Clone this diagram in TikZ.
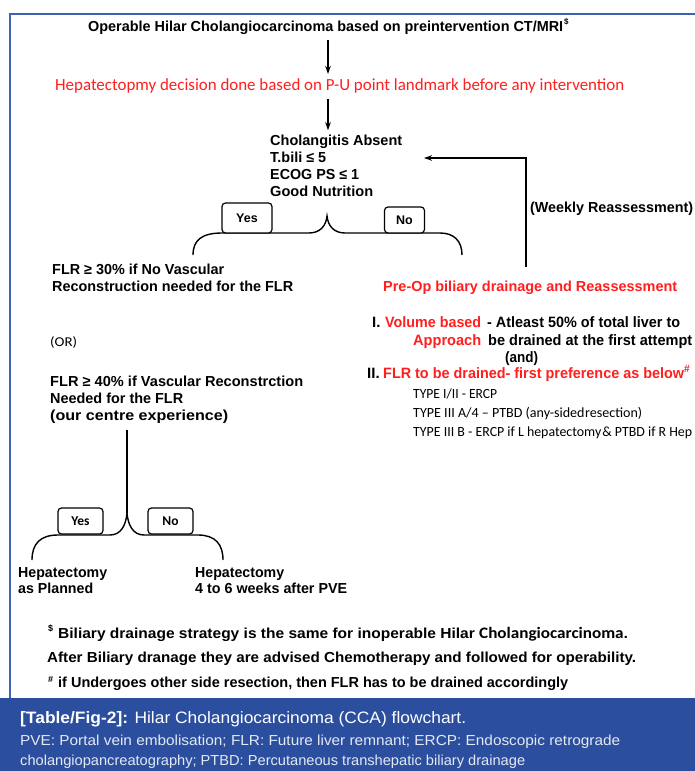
\documentclass[tikz,border=0pt]{standalone}
\usepackage{fontspec}
\usepackage{graphicx}
\setmainfont{Liberation Sans}
\newfontfamily\calfont{Carlito}
\usetikzlibrary{arrows.meta,calc}
\definecolor{frameblue}{HTML}{3C62B0}
\definecolor{bandblue}{HTML}{2B4F9E}
\definecolor{txtred}{HTML}{FF1F1F}
\definecolor{capgray}{HTML}{E4E9F3}
\newcommand\fitw[2]{\resizebox{#1pt}{\height}{#2}}
\begin{document}
\begin{tikzpicture}[x=1pt,y=-1pt,
  t/.style={inner sep=0pt, anchor=base west, font=\bfseries\fontsize{14.5}{17}\selectfont},
  tr/.style={t, text=txtred},
  rb/.style={t, font=\bfseries\fontsize{15}{17}\selectfont},
  ty/.style={inner sep=0pt, anchor=base west, font=\calfont\fontsize{14}{14}\selectfont},
  fn/.style={inner sep=0pt, anchor=base west, font=\bfseries\fontsize{14.5}{16}\selectfont},
  cp/.style={inner sep=0pt, anchor=base west, text=capgray, font=\fontsize{14.5}{16}\selectfont},
  arr/.style={line width=1.4pt, -{Stealth[length=8pt,width=5.5pt]}},
  bracepath/.style={line width=1.4pt},
  choice/.style={draw, line width=1.2pt, rounded corners=3.5pt, fill=white, inner sep=0pt, font=\bfseries\fontsize{12.5}{12}\selectfont},
  choicec/.style={choice, font=\calfont\bfseries\fontsize{13.5}{13}\selectfont}
]
\useasboundingbox (0,0) rectangle (695,771);
\fill[white] (0,0) rectangle (695,771);
% frame and caption band
\draw[frameblue, line width=1.2pt] (10,698) -- (10,14) -- (695,14);
\fill[bandblue] (0,698) rectangle (695,771);

% top part
\coordinate (ax) at (328,0);
\node[t] (title) at (88,31) {\fitw{475}{Operable Hilar Cholangiocarcinoma based on preintervention CT/MRI}};
\node[inner sep=0pt, anchor=base west, font=\bfseries\fontsize{8}{8}\selectfont] (tdollar) at (564,24) {\$};
\node[inner sep=0pt, anchor=base west, text=txtred, font=\calfont\fontsize{17}{17}\selectfont] (hep) at (55,90) {\fitw{569}{Hepatectopmy decision done based on P-U point landmark before any intervention}};
\draw[arr, shorten <=6pt, shorten >=4pt] (title.south -| ax) -- (hep.north -| ax);

% conditions
\node[t] (c1) at (270,145) {\fitw{132}{Cholangitis Absent}};
\node[t] (c2) at (270,162) {\fitw{56}{T.bili ≤ 5}};
\node[t] (c3) at (270,179) {\fitw{89}{ECOG PS ≤ 1}};
\node[t] (c4) at (270,196) {\fitw{103}{Good Nutrition}};
\draw[arr, shorten <=6pt, shorten >=4pt] (hep.south -| ax) -- (c1.north -| ax);

% first brace
\coordinate (b1l) at (193,255);
\coordinate (b1tip) at (327,216);
\coordinate (b1r) at (462,255);
\draw[bracepath] (b1l) .. controls (193,240) and (202,233) .. (222,233) -- (309,233)
  .. controls (320,233) and (326,226) .. (b1tip)
  .. controls (328,226) and (334,233) .. (345,233) -- (440,233)
  .. controls (454,233) and (462,241) .. (b1r);
\node[choice, minimum width=50pt, minimum height=30pt] (yes1) at (247,218) {Yes};
\node[choice, minimum width=40pt, minimum height=26pt] (no1) at (404.5,220) {No};

% weekly reassessment loop
\node[t] (wk) at (530,212) {\fitw{163}{(Weekly Reassessment)}};
\node[tr] (pre) at (383,291) {\fitw{294}{Pre-Op biliary drainage and Reassessment}};
\coordinate (wkbot) at (526,267);
\coordinate (wktip) at (424,158);
\draw[arr] (wkbot) |- (wktip);

% left column
\node[t] (l1) at (52,274) {\fitw{172}{FLR ≥ 30\% if No Vascular}};
\node[t] (l2) at (52,291) {\fitw{241}{Reconstruction needed for the FLR}};
\node[inner sep=0pt, anchor=base west, font=\calfont\fontsize{13.5}{13}\selectfont] (or) at (50,346) {\fitw{27}{(OR)}};
\node[t] (m1) at (50,386) {\fitw{253}{FLR ≥ 40\% if Vascular Reconstrction}};
\node[t] (m2) at (50,403) {\fitw{133}{Needed for the FLR}};
\node[t] (m3) at (50,420) {\fitw{178}{(our centre experience)}};

% second brace
\coordinate (vtop) at (127,430);
\coordinate (b2tip) at (127,513);
\coordinate (b2l) at (32,560);
\coordinate (b2r) at (223,560);
\draw[line width=1.2pt] (vtop) -- (b2tip);
\draw[bracepath] (b2l) .. controls (32,544) and (40,535) .. (58,535) -- (110,535)
  .. controls (121,535) and (126,525) .. (b2tip)
  .. controls (128,525) and (133,535) .. (144,535) -- (198,535)
  .. controls (215,535) and (223,544) .. (b2r);
\node[choicec, minimum width=45pt, minimum height=26pt] (yes2) at (80.5,521) {Yes};
\node[choicec, minimum width=45pt, minimum height=26pt] (no2) at (170.5,521) {No};

\node[t] (h1) at (18,577) {\fitw{89}{Hepatectomy}};
\node[t] (h2) at (18,593) {\fitw{75}{as Planned}};
\node[t] (h3) at (195,577) {\fitw{89}{Hepatectomy}};
\node[t] (h4) at (195,593) {\fitw{152}{4 to 6 weeks after PVE}};

% right block
\node[rb] (r1) at (372,327) {I.};
\node[rb, text=txtred] (vb) at (385,327) {\fitw{96}{Volume based}};
\node[rb] (al) at (487,327) {\fitw{193}{- Atleast 50\% of total liver to}};
\node[rb, text=txtred] (ap) at (413,345) {\fitw{68}{Approach}};
\node[rb] (bd) at (488,345) {\fitw{204}{be drained at the first attempt}};
\node[rb] (and) at (505,362) {\fitw{33}{(and)}};
\node[rb] (r2) at (367,378) {II.};
\node[rb, text=txtred] (flrd) at (383,378) {\fitw{307}{FLR to be drained- first preference as below\textsuperscript{\#}}};
\node[ty] (ty1) at (413,398) {\fitw{84}{TYPE I/II - ERCP}};
\node[ty] (ty2) at (413,417) {\fitw{229}{TYPE III A/4 – PTBD (any-sided\hspace{0.5pt}resection)}};
\node[ty] (ty3) at (413,436) {\fitw{279}{TYPE III B - ERCP if L hepatectomy\hspace{1pt}\& PTBD if R Hep}};

% footnotes
\node[inner sep=0pt, anchor=base west, font=\bfseries\fontsize{9}{9}\selectfont] (fdol) at (48,631) {\$};
\node[fn] (f1) at (58,638) {\fitw{570}{Biliary drainage strategy is the same for inoperable Hilar {\calfont\bfseries\fontsize{16}{16}\selectfont Cholangiocarcinoma.}}};
\node[fn] (f2) at (47,662) {\fitw{589}{After Biliary dranage they are advised Chemotherapy and followed for operability.}};
\node[inner sep=0pt, anchor=base west, font=\bfseries\fontsize{9}{9}\selectfont] (fhash) at (48,682) {\#};
\node[fn] (f3) at (58,687) {\fitw{510}{if Undergoes other side resection, then FLR has to be drained accordingly}};

% caption
\node[cp, text=white, font=\fontsize{16.5}{18}\selectfont] (cap1) at (20,723) {\fitw{446}{\textbf{[Table/Fig-2]:} Hilar Cholangiocarcinoma (CCA) flowchart.}};
\node[cp] (cap2) at (20,745) {\fitw{600}{PVE: Portal vein embolisation; FLR: Future liver remnant; ERCP: Endoscopic retrograde}};
\node[cp] (cap3) at (20,765) {\fitw{505}{cholangiopancreatography; PTBD: Percutaneous transhepatic biliary drainage}};
\end{tikzpicture}
\end{document}
